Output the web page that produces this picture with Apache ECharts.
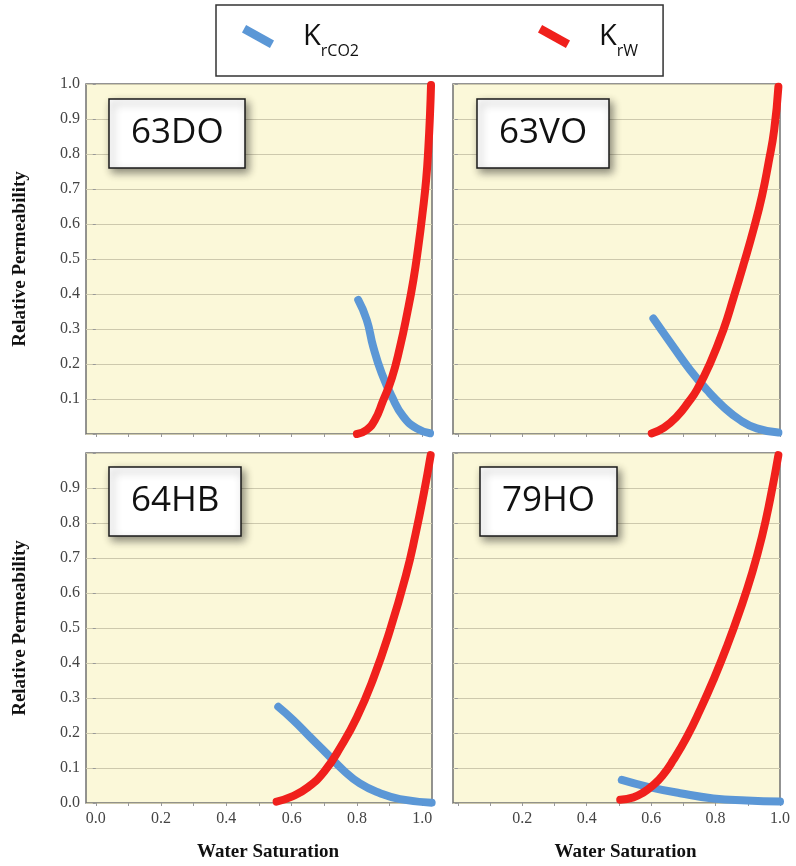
<!DOCTYPE html>
<html>
<head>
<meta charset="utf-8">
<script src="https://cdn.jsdelivr.net/npm/echarts@6/dist/echarts.min.js"></script>
<style>
  html, body { margin: 0; padding: 0; background: #fff; }
  #chart { width: 796px; height: 866px; }
</style>
</head>
<body>
<div id="chart"></div>
<script>
// panel names
const panels = ["63DO", "63VO", "64HB", "79HO"];

// curves, [water saturation, relative permeability]
const co2_63DO = [[0.804,0.383],[0.83,0.326],[0.85,0.249],[0.876,0.173],[0.907,0.107],[0.942,0.05],[0.983,0.016],[1.024,0.002]];
const w_63DO = [[0.80,0.0],[0.83,0.012],[0.855,0.04],[0.88,0.095],[0.907,0.16],[0.932,0.249],[0.954,0.345],[0.973,0.44],[0.988,0.535],[1.001,0.631],[1.012,0.726],[1.019,0.821],[1.024,0.916],[1.027,0.997]];

const co2_63VO = [[0.607,0.33],[0.669,0.249],[0.721,0.183],[0.773,0.126],[0.824,0.078],[0.876,0.04],[0.928,0.016],[0.995,0.004]];
const w_63VO = [[0.602,0.002],[0.64,0.018],[0.68,0.05],[0.715,0.09],[0.742,0.126],[0.783,0.202],[0.824,0.297],[0.856,0.39],[0.887,0.485],[0.918,0.585],[0.944,0.68],[0.964,0.773],[0.982,0.869],[0.995,0.992]];

const co2_64HB = [[0.559,0.275],[0.605,0.237],[0.656,0.189],[0.707,0.142],[0.758,0.094],[0.809,0.056],[0.871,0.028],[0.932,0.011],[1.029,0.001]];
const w_64HB = [[0.554,0.004],[0.6,0.018],[0.65,0.045],[0.7,0.09],[0.75,0.16],[0.8,0.245],[0.85,0.355],[0.9,0.49],[0.95,0.65],[0.98,0.77],[1.005,0.885],[1.026,0.994]];

const co2_79HO = [[0.509,0.066],[0.587,0.047],[0.69,0.028],[0.793,0.013],[0.897,0.007],[1.0,0.004]];
const w_79HO = [[0.504,0.009],[0.545,0.016],[0.576,0.03],[0.605,0.05],[0.635,0.078],[0.669,0.123],[0.711,0.189],[0.752,0.266],[0.793,0.351],[0.835,0.447],[0.876,0.551],[0.913,0.656],[0.944,0.761],[0.969,0.866],[0.995,0.994]];

const co2Curves = [co2_63DO, co2_63VO, co2_64HB, co2_79HO];
const wCurves = [w_63DO, w_63VO, w_64HB, w_79HO];

// tick labels
const xLabelsLeft = [0, 0.2, 0.4, 0.6, 0.8, 1.0];
const xLabelsRight = [0.2, 0.4, 0.6, 0.8, 1.0];
const xMinor = [0, 0.1, 0.2, 0.3, 0.4, 0.5, 0.6, 0.7, 0.8, 0.9, 1.0];

const chart = echarts.init(document.getElementById("chart"));

const blue = "#5b97d6";
const red = "#f0201c";
const serif = "'Liberation Serif', 'DejaVu Serif', serif";

const grids = [
  { left: 86, top: 84, width: 346, height: 350 },
  { left: 453, top: 84, width: 327, height: 350 },
  { left: 86, top: 453, width: 346, height: 350 },
  { left: 453, top: 453, width: 327, height: 350 },
].map((g) => ({
  ...g,
  show: true,
  backgroundColor: "#fbf8d9",
  borderColor: "#707070",
  borderWidth: 1.5,
}));

const xAxes = grids.map((g, i) => {
  const isLeft = i % 2 === 0;
  const isBottom = i >= 2;
  return {
    type: "value",
    gridIndex: i,
    min: isLeft ? -0.03 : -0.015,
    max: isLeft ? 1.03 : 1.0,
    name: isBottom ? "Water Saturation" : "",
    nameLocation: "middle",
    nameGap: 40,
    nameTextStyle: {
      fontFamily: serif,
      fontWeight: "bold",
      fontSize: 19,
      color: "#111",
      padding: [0, 0, 0, 18],
    },
    axisLine: { show: false },
    axisTick: {
      show: true,
      customValues: xMinor,
      length: 3,
      lineStyle: { color: "#999" },
    },
    axisLabel: {
      show: isBottom,
      customValues: isLeft ? xLabelsLeft : xLabelsRight,
      formatter: (v) => v.toFixed(1),
      fontFamily: serif,
      fontSize: 16,
      color: "#444",
      margin: 8,
    },
    splitLine: { show: false },
  };
});

const yAxes = grids.map((g, i) => {
  const isLeft = i % 2 === 0;
  const isBottom = i >= 2;
  return {
    type: "value",
    gridIndex: i,
    min: 0,
    max: 1,
    interval: 0.1,
    name: isLeft ? "Relative Permeability" : "",
    nameLocation: "middle",
    nameGap: 56,
    nameTextStyle: {
      fontFamily: serif,
      fontWeight: "bold",
      fontSize: 19,
      color: "#111",
    },
    axisLine: { show: false },
    axisTick: { show: true, length: 3, lineStyle: { color: "#999" } },
    axisLabel: {
      show: isLeft,
      formatter: (v) => {
        if (!isBottom && v < 0.05) return "";
        if (isBottom && v > 0.95) return "";
        return v.toFixed(1);
      },
      fontFamily: serif,
      fontSize: 16,
      color: "#444",
      margin: 6,
    },
    splitLine: { show: true, lineStyle: { color: "#cdc9ad", width: 1 } },
  };
});

const titlePos = [
  [109, 99],
  [477, 99],
  [109, 467],
  [480, 467],
];
const titles = panels.map((name, i) => ({
  text: name,
  left: titlePos[i][0],
  top: titlePos[i][1],
  padding: [17, 22, 17, 22],
  backgroundColor: "#fff",
  borderColor: "#1a1a1a",
  borderWidth: 1.5,
  shadowBlur: 8,
  shadowColor: "rgba(0,0,0,0.45)",
  shadowOffsetX: 3,
  shadowOffsetY: 4,
  textStyle: {
    fontFamily: "'Open Sans', 'Noto Sans', sans-serif",
    fontWeight: "normal",
    fontSize: 35,
    lineHeight: 35,
    color: "#111",
  },
}));

let series = [];
panels.forEach((name, i) => {
  series.push({
    name: "KrCO2",
    type: "line",
    xAxisIndex: i,
    yAxisIndex: i,
    data: co2Curves[i],
    smooth: 0.5,
    showSymbol: false,
    clip: false,
    color: blue,
    lineStyle: { width: 8, color: blue, cap: "round", join: "round" },
    z: 3,
  });
  series.push({
    name: "KrW",
    type: "line",
    xAxisIndex: i,
    yAxisIndex: i,
    data: wCurves[i],
    smooth: 0.5,
    showSymbol: false,
    clip: false,
    color: red,
    lineStyle: { width: 8, color: red, cap: "round", join: "round" },
    z: 4,
  });
});

const legendIcon = "path://M6,-2 L40,17 L35,26 L1,7 Z";

const option = {
  animation: false,
  backgroundColor: "#fff",
  title: titles,
  legend: {
    data: ["KrCO2", "KrW"],
    left: 216,
    top: 5,
    padding: [17, 25, 17, 26],
    itemGap: 179,
    itemWidth: 40,
    itemHeight: 23,
    icon: legendIcon,
    borderColor: "#333",
    borderWidth: 1.5,
    backgroundColor: "#fff",
    formatter: (n) => "{k|K}{s|" + n.slice(1) + "}",
    textStyle: {
      padding: [0, 0, 0, 20],
      rich: {
        k: {
          fontFamily: "'Open Sans', 'Noto Sans', sans-serif",
          fontSize: 29,
          color: "#111",
          verticalAlign: "bottom",
        },
        s: {
          fontFamily: "'Open Sans', 'Noto Sans', sans-serif",
          fontSize: 16,
          color: "#111",
          verticalAlign: "bottom",
          padding: [0, 0, -8, 0],
        },
      },
    },
  },
  grid: grids,
  xAxis: xAxes,
  yAxis: yAxes,
  series: series,
};

chart.setOption(option);
</script>
</body>
</html>
